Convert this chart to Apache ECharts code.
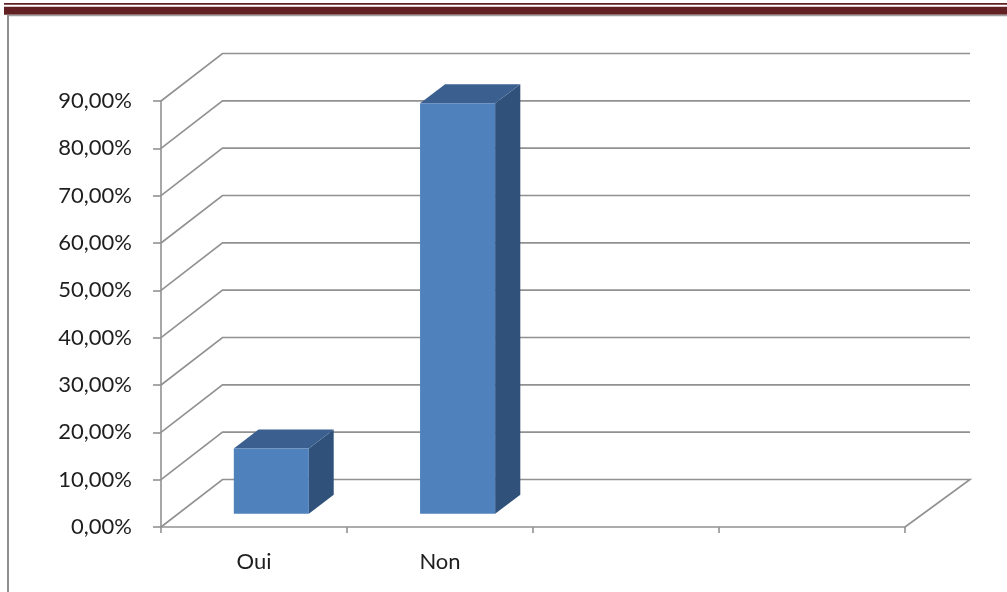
<!DOCTYPE html>
<html>
<head>
<meta charset="utf-8">
<script src="https://cdn.jsdelivr.net/npm/echarts@6/dist/echarts.min.js"></script>
<style>
  html, body { margin: 0; padding: 0; background: #ffffff; }
  #chart { width: 1007px; height: 592px; }
</style>
</head>
<body>
<div id="chart"></div>
<script>
// Categories on the floor of the 3D box (two empty slots keep the Excel layout)
const categories = ['Oui', 'Non', '', ''];
// Share of answers, in percent
const values = [13.8, 86.7];
// Value ticks on the vertical axis
const yTicks = [0, 10, 20, 30, 40, 50, 60, 70, 80, 90];

// Oblique projection of the depth axis (pixels for the full depth)
const DX_LEFT = 61.5, DX_RIGHT = 65, DY = -47.5;
// Bar placement inside the depth
const BAR_DEPTH_FRONT = 0.28, BAR_DEPTH_BACK = 0.68, BAR_WIDTH_RATIO = 0.403;

const GRID_COLOR = '#919191';
const TEXT_COLOR = '#1e1e1e';
const FONT = 'Lato';

function dxAt(x, cs) {
  return DX_LEFT + (DX_RIGHT - DX_LEFT) * (x - cs.x) / cs.width;
}
function project(pt, f, cs) {
  return [pt[0] + f * dxAt(pt[0], cs), pt[1] + f * DY];
}
function fmtPct(v) {
  return v.toFixed(2).replace('.', ',') + '%';
}

// Back wall, left wall and floor lines for each tick value
function renderWalls(params, api) {
  const cs = params.coordSys;
  const v = api.value(1);
  const y = api.coord([0, v])[1];
  const x0 = cs.x, x1 = cs.x + cs.width;
  const pts = [[x0, y], project([x0, y], 1, cs), project([x1, y], 1, cs)];
  if (v === 0) pts.push([x1, y]);
  return {
    type: 'polyline',
    shape: { points: pts },
    style: { stroke: GRID_COLOR, lineWidth: 1.6, fill: null }
  };
}

// 3D box bar: front face, top face and right side face
function renderBar(params, api) {
  const cs = params.coordSys;
  const i = api.value(0), v = api.value(1);
  const base = api.coord([i, 0]);
  const top = api.coord([i, v]);
  const w = api.size([1, 0])[0] * BAR_WIDTH_RATIO;
  const xl = base[0] - w / 2, xr = base[0] + w / 2;
  const f0 = BAR_DEPTH_FRONT, f1 = BAR_DEPTH_BACK;
  const lb0 = project([xl, base[1]], f0, cs), rb0 = project([xr, base[1]], f0, cs);
  const lt0 = project([xl, top[1]], f0, cs), rt0 = project([xr, top[1]], f0, cs);
  const lt1 = project([xl, top[1]], f1, cs), rt1 = project([xr, top[1]], f1, cs);
  const rb1 = project([xr, base[1]], f1, cs);
  return {
    type: 'group',
    children: [
      { type: 'polygon', shape: { points: [rb0, rt0, rt1, rb1] },
        style: { fill: '#30527a' } },
      { type: 'polygon', shape: { points: [lt0, rt0, rt1, lt1] },
        style: { fill: '#3b6090' } },
      { type: 'polygon', shape: { points: [lb0, rb0, rt0, lt0] },
        style: { fill: '#4f81bd' } }
    ]
  };
}

const chart = echarts.init(document.getElementById('chart'), null, { renderer: 'canvas' });

chart.setOption({
  animation: false,
  backgroundColor: '#ffffff',
  graphic: [
    { type: 'rect', shape: { x: 4, y: 3, width: 1003, height: 1.7 }, style: { fill: '#622023' } },
    { type: 'rect', shape: { x: 4, y: 6.7, width: 1003, height: 8 }, style: { fill: '#622023' } },
    { type: 'line', shape: { x1: 7, y1: 15.5, x2: 1007, y2: 15.5 }, style: { stroke: '#a0a0a0', lineWidth: 1.5 } },
    { type: 'line', shape: { x1: 8, y1: 15, x2: 8, y2: 592 }, style: { stroke: '#8f8f8f', lineWidth: 2 } }
  ],
  grid: { left: 161, right: 102, top: 101, bottom: 65, containLabel: false },
  xAxis: {
    type: 'category',
    data: categories,
    boundaryGap: true,
    axisLine: { show: true, lineStyle: { color: GRID_COLOR, width: 1.6 } },
    axisTick: { show: true, interval: 0, length: 6, lineStyle: { color: GRID_COLOR, width: 1.6 } },
    axisLabel: { interval: 0, margin: 24, fontSize: 22, fontFamily: FONT, color: TEXT_COLOR },
    splitLine: { show: false }
  },
  yAxis: {
    type: 'value',
    min: yTicks[0],
    max: yTicks[yTicks.length - 1],
    interval: yTicks[1] - yTicks[0],
    axisLine: { show: true, lineStyle: { color: GRID_COLOR, width: 1.6 } },
    axisTick: { show: true, length: 8, lineStyle: { color: GRID_COLOR, width: 1.6 } },
    axisLabel: { margin: 29, fontSize: 22, fontFamily: FONT, color: TEXT_COLOR, formatter: fmtPct },
    splitLine: { show: false }
  },
  series: [
    {
      type: 'custom',
      name: 'walls',
      z: 1,
      silent: true,
      renderItem: renderWalls,
      data: yTicks.map(v => [0, v])
    },
    {
      type: 'custom',
      name: 'bars',
      z: 3,
      renderItem: renderBar,
      data: values.map((v, i) => [i, v])
    }
  ]
});
</script>
</body>
</html>
